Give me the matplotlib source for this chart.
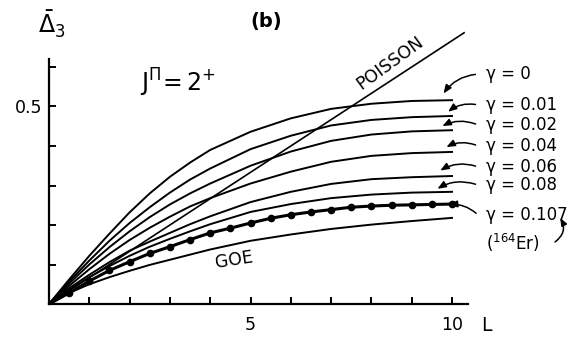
import matplotlib
matplotlib.use("Agg")
import matplotlib.pyplot as plt

L = [0, 0.5, 1, 1.5, 2, 2.5, 3, 3.5, 4, 5, 6, 7, 8, 9, 10]

g000 = [0, 0.062, 0.122, 0.178, 0.232, 0.280, 0.322, 0.358, 0.390, 0.436, 0.470, 0.494, 0.507, 0.514, 0.516]
g001 = [0, 0.057, 0.110, 0.160, 0.205, 0.245, 0.282, 0.315, 0.343, 0.392, 0.426, 0.452, 0.466, 0.473, 0.476]
g002 = [0, 0.052, 0.100, 0.144, 0.184, 0.220, 0.252, 0.280, 0.305, 0.350, 0.386, 0.413, 0.429, 0.437, 0.440]
g004 = [0, 0.046, 0.088, 0.127, 0.162, 0.193, 0.221, 0.247, 0.268, 0.305, 0.335, 0.360, 0.375, 0.382, 0.385]
g006 = [0, 0.040, 0.074, 0.106, 0.135, 0.158, 0.180, 0.202, 0.222, 0.258, 0.284, 0.304, 0.316, 0.321, 0.324]
g008 = [0, 0.036, 0.068, 0.096, 0.122, 0.145, 0.165, 0.184, 0.202, 0.233, 0.253, 0.268, 0.277, 0.282, 0.284]
goe = [0, 0.028, 0.050, 0.068, 0.084, 0.099, 0.112, 0.125, 0.138, 0.160, 0.176, 0.190, 0.201, 0.210, 0.218]

# 164Er points (gamma = 0.107)
L_er = [0, 0.5, 1, 1.5, 2, 2.5, 3, 3.5, 4, 4.5, 5, 5.5, 6, 6.5, 7, 7.5, 8, 8.5, 9, 9.5, 10]
d_er = [0, 0.028, 0.058, 0.085, 0.107, 0.128, 0.145, 0.163, 0.180, 0.192, 0.205,
        0.217, 0.226, 0.233, 0.239, 0.245, 0.248, 0.250, 0.251, 0.252, 0.253]

# Poisson line end points
L_poi = [0, 10.3]
d_poi = [0, 10.3 / 15]

labels = ["γ = 0", "γ = 0.01", "γ = 0.02", "γ = 0.04", "γ = 0.06", "γ = 0.08", "γ = 0.107"]
label_y = [0.582, 0.504, 0.453, 0.400, 0.347, 0.301, 0.225]
arrow_tip = [(9.75, 0.527), (9.85, 0.482), (9.7, 0.447), (9.8, 0.394),
             (9.65, 0.334), (9.58, 0.288), (9.85, 0.250)]

fig = plt.figure(figsize=(5.73, 3.37), dpi=100)
ax = fig.add_axes([49 / 573, 33 / 337, 10.4 * 40.3 / 573, 0.62 * 395 / 337])

lw = 1.4
for d in [g000, g001, g002, g004, g006, g008, goe]:
    ax.plot(L, d, color="black", lw=lw)
ax.plot(L_er, d_er, color="black", lw=2.2, marker="o", ms=4.5)
ax.plot(L_poi, d_poi, color="black", lw=1.2, clip_on=False)

ax.set_xlim(0, 10.4)
ax.set_ylim(0, 0.62)
for s in ["top", "right"]:
    ax.spines[s].set_visible(False)
for s in ["left", "bottom"]:
    ax.spines[s].set_linewidth(1.6)

ax.set_xticks(range(1, 11))
ax.set_xticklabels(["", "", "", "", "5", "", "", "", "", "10"])
ax.set_yticks([0.1, 0.2, 0.3, 0.4, 0.5, 0.6])
ax.set_yticklabels(["", "", "", "", "0.5", ""])
ax.tick_params(direction="in", length=5, width=1.4, labelsize=12.5)
ax.tick_params(axis="x", pad=9)
ax.tick_params(axis="y", pad=5)

ax.text(10.85, -0.055, "L", fontsize=13.5, ha="center", va="center", clip_on=False)

# headings
fig.text(52 / 573, 1 - 24 / 337, r"$\bar{\Delta}_3$", fontsize=17, ha="center", va="center")
fig.text(266 / 573, 1 - 22 / 337, "(b)", fontsize=14, fontweight="bold", ha="center", va="center")
ax.text(3.2, 0.56, r"$\mathrm{J}^{\Pi}\!=2^{+}$", fontsize=17, ha="center", va="center")

ax.text(8.45, 0.61, "POISSON", fontsize=12.5, rotation=36, ha="center", va="center",
        rotation_mode="anchor")
ax.text(4.6, 0.111, "GOE", fontsize=12.5, rotation=9, ha="center", va="center",
        rotation_mode="anchor")

for lab, y, tip in zip(labels, label_y, arrow_tip):
    ax.text(10.85, y, lab, fontsize=12, ha="left", va="center", clip_on=False)
    ax.annotate("", xy=tip, xytext=(10.65, y),
                arrowprops=dict(arrowstyle="-|>,head_length=0.5,head_width=0.2", color="black",
                                lw=1.1, connectionstyle="arc3,rad=0.25"),
                annotation_clip=False)

ax.text(10.85, 0.154, r"($^{164}$Er)", fontsize=12, ha="left", va="center", clip_on=False)
ax.annotate("", xy=(12.65, 0.224), xytext=(12.5, 0.153),
            arrowprops=dict(arrowstyle="-|>,head_length=0.45,head_width=0.18", color="black",
                            lw=1.1, connectionstyle="arc3,rad=0.5"),
            annotation_clip=False)

fig.savefig("out.png", dpi=100)
